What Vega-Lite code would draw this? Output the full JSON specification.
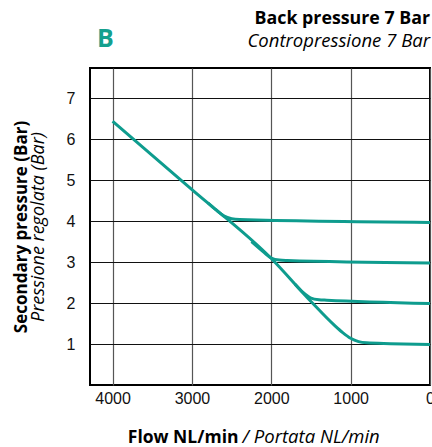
{
  "$schema": "https://vega.github.io/schema/vega-lite/v6.json",
  "autosize": "none",
  "padding": {"left": 90, "top": 68, "right": 2, "bottom": 62},
  "width": 340,
  "height": 317,
  "background": "white",
  "title": {
    "text": "Back pressure 7 Bar",
    "subtitle": "Contropressione 7 Bar",
    "anchor": "end",
    "frame": "group",
    "font": "Open Sans",
    "fontSize": 17.8,
    "fontWeight": "bold",
    "color": "#000",
    "subtitleFont": "Open Sans",
    "subtitleFontSize": 18.5,
    "subtitleFontStyle": "italic",
    "subtitleColor": "#000",
    "subtitlePadding": 4,
    "offset": -24
  },
  "config": {
    "view": {"stroke": "#000", "strokeWidth": 2},
    "axis": {"labelFont": "Liberation Sans", "labelFontSize": 16, "labelColor": "#111", "ticks": false, "domain": false}
  },
  "datasets": {
    "curves": [
      {"s": "1", "flow": 4000, "p": 6.44},
      {"s": "1", "flow": 3000, "p": 4.77},
      {"s": "1", "flow": 2000, "p": 3.09},
      {"s": "1", "flow": 1500, "p": 2.04},
      {"s": "1", "flow": 1200, "p": 1.45},
      {"s": "1", "flow": 1100, "p": 1.28},
      {"s": "1", "flow": 1000, "p": 1.14},
      {"s": "1", "flow": 900, "p": 1.06},
      {"s": "1", "flow": 800, "p": 1.03},
      {"s": "1", "flow": 500, "p": 1.01},
      {"s": "1", "flow": 0, "p": 0.99},
      {"s": "2", "flow": 1700, "p": 2.46},
      {"s": "2", "flow": 1600, "p": 2.26},
      {"s": "2", "flow": 1500, "p": 2.12},
      {"s": "2", "flow": 1400, "p": 2.08},
      {"s": "2", "flow": 1300, "p": 2.07},
      {"s": "2", "flow": 0, "p": 1.99},
      {"s": "3", "flow": 2250, "p": 3.5},
      {"s": "3", "flow": 2100, "p": 3.25},
      {"s": "3", "flow": 2000, "p": 3.1},
      {"s": "3", "flow": 1900, "p": 3.05},
      {"s": "3", "flow": 1800, "p": 3.04},
      {"s": "3", "flow": 0, "p": 2.98},
      {"s": "4", "flow": 2800, "p": 4.45},
      {"s": "4", "flow": 2700, "p": 4.28},
      {"s": "4", "flow": 2600, "p": 4.13},
      {"s": "4", "flow": 2500, "p": 4.06},
      {"s": "4", "flow": 2400, "p": 4.04},
      {"s": "4", "flow": 0, "p": 3.97}
    ]
  },
  "layer": [
    {
      "data": {"name": "curves"},
      "mark": {"type": "line", "interpolate": "monotone", "color": "#0e9c8e", "strokeWidth": 3},
      "encoding": {
        "detail": {"field": "s"},
        "x": {
          "field": "flow", "type": "quantitative",
          "scale": {"domain": [4285, 0], "nice": false, "zero": false},
          "axis": {
            "orient": "bottom",
            "values": [0, 1000, 2000, 3000, 4000],
            "format": "d",
            "labelFlush": false,
            "labelPadding": 5,
            "grid": true, "gridColor": "#555", "gridWidth": 1.2,
            "title": "Flow NL/min",
            "titleFont": "Open Sans", "titleFontSize": 17.5, "titleFontWeight": "bold", "titleColor": "#000",
            "titleX": 148, "titleY": 57, "titleAlign": "right", "titleBaseline": "alphabetic"
          }
        },
        "y": {
          "field": "p", "type": "quantitative",
          "scale": {"domain": [0, 7.74], "nice": false, "zero": false},
          "axis": {
            "orient": "left",
            "values": [1, 2, 3, 4, 5, 6, 7],
            "labelPadding": 15,
            "grid": true, "gridColor": "#111", "gridWidth": 1,
            "title": "Secondary pressure (Bar)",
            "titleFont": "Open Sans", "titleFontSize": 17, "titleFontWeight": "bold", "titleColor": "#000",
            "titleX": -64, "titleBaseline": "alphabetic"
          }
        }
      }
    },
    {
      "mark": {"type": "text"},
      "encoding": {
        "x": {
          "datum": 4096, "type": "quantitative",
          "axis": {
            "orient": "bottom",
            "labels": false, "grid": false,
            "title": "/ Portata NL/min",
            "titleFont": "Open Sans", "titleFontSize": 18.5, "titleFontWeight": "normal", "titleFontStyle": "italic", "titleColor": "#000",
            "titleX": 152, "titleY": 57, "titleAlign": "left", "titleBaseline": "alphabetic"
          }
        },
        "y": {
          "datum": 8.47, "type": "quantitative",
          "axis": {
            "orient": "left",
            "labels": false, "grid": false,
            "title": "Pressione regolata (Bar)",
            "titleFont": "Open Sans", "titleFontSize": 18, "titleFontWeight": "normal", "titleFontStyle": "italic", "titleColor": "#000",
            "titleX": -47, "titleBaseline": "alphabetic"
          }
        },
        "text": {"value": ""}
      }
    },
    {
      "mark": {"type": "text"},
      "encoding": {
        "x": {
          "datum": 4096, "type": "quantitative",
          "axis": {
            "orient": "top",
            "labels": false, "grid": false,
            "title": "B",
            "titleFont": "Open Sans", "titleFontSize": 25, "titleFontWeight": "bold", "titleColor": "#14a08e",
            "titleX": 15, "titleY": -30, "titleAlign": "center", "titleBaseline": "middle"
          }
        },
        "text": {"value": ""}
      }
    }
  ],
  "resolve": {"axis": {"x": "independent", "y": "independent"}}
}
